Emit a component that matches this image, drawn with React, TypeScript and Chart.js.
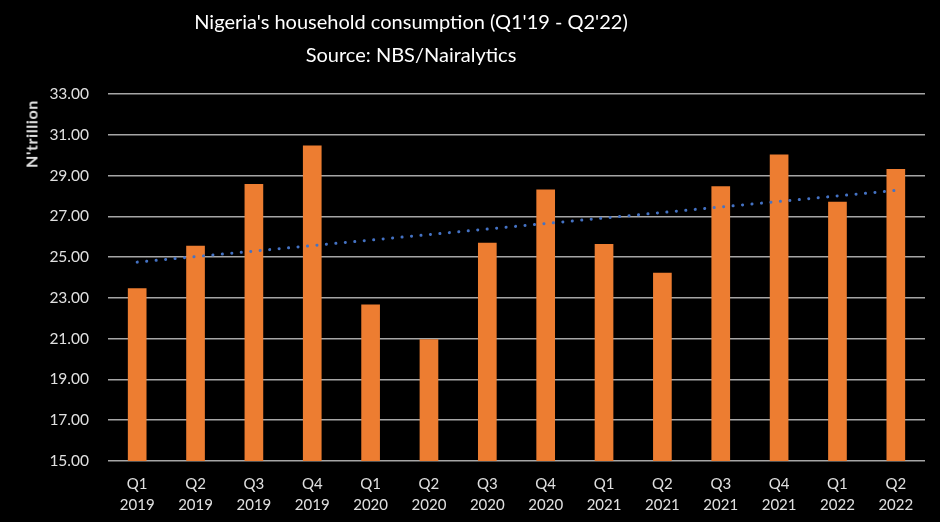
import { Chart, registerables } from "chart.js";
import React, { useEffect, useRef } from "react";

Chart.register(...registerables);

const quarters: string[] = ["Q1", "Q2", "Q3", "Q4", "Q1", "Q2", "Q3", "Q4", "Q1", "Q2", "Q3", "Q4", "Q1", "Q2"];
const years: string[] = ["2019", "2019", "2019", "2019", "2020", "2020", "2020", "2020", "2021", "2021", "2021", "2021", "2022", "2022"];
const consumption: number[] = [23.47, 25.56, 28.59, 30.48, 22.67, 20.97, 25.71, 28.31, 25.64, 24.23, 28.47, 30.03, 27.72, 29.32];

// linear trendline, same as the spreadsheet's
const trend = (ys: number[]): number[] => {
  const n = ys.length;
  const mx = (n - 1) / 2;
  const my = ys.reduce((a, b) => a + b, 0) / n;
  let num = 0;
  let den = 0;
  ys.forEach((y, i) => {
    num += (i - mx) * (y - my);
    den += (i - mx) * (i - mx);
  });
  const slope = num / den;
  return ys.map((_, i) => my + slope * (i - mx));
};

const FONT = "Lato, 'Open Sans', sans-serif";

const App: React.FC = () => {
  const chartRef = useRef<HTMLCanvasElement>(null);

  useEffect(() => {
    document.body.style.margin = "0";
    document.body.style.background = "#000";
    let chartInstance: Chart | null = null;
    if (chartRef.current) {
      chartInstance = new Chart(chartRef.current, {
        type: "bar",
        data: {
          labels: quarters.map((q, i) => [q, years[i]]),
          datasets: [
            {
              type: "line",
              label: "Trend",
              data: trend(consumption),
              borderColor: "#4472c4",
              borderWidth: 3,
              borderDash: [0.1, 9.4],
              borderCapStyle: "round",
              pointRadius: 0,
              fill: false,
              order: 0,
            },
            {
              type: "bar",
              label: "Household consumption",
              data: consumption,
              backgroundColor: "#ed7d31",
              categoryPercentage: 1,
              barPercentage: 0.32,
              order: 1,
            },
          ],
        },
        options: {
          animation: false,
          responsive: false,
          layout: { padding: { top: 94, right: 15, left: 0, bottom: 0 } },
          plugins: {
            legend: { display: false },
            tooltip: { enabled: false },
            title: { display: false },
          },
          scales: {
            x: {
              grid: { display: false },
              border: { display: false },
              ticks: {
                color: "#e0e0e0",
                font: { family: FONT, size: 15, lineHeight: 1.45 },
                padding: 4,
                maxRotation: 0,
                autoSkip: false,
              },
              afterFit: (scale: any) => {
                scale.height = 61;
              },
            },
            y: {
              min: 15,
              max: 33,
              border: { display: false },
              grid: { color: "#a6a6a6", lineWidth: 1.5, drawTicks: false },
              ticks: {
                stepSize: 2,
                color: "#e0e0e0",
                padding: 19,
                font: { family: FONT, size: 15.5 },
                callback: (v: any) => Number(v).toFixed(2),
              },
              afterFit: (scale: any) => {
                scale.width = 108;
              },
            },
          },
        },
      });
    }
    return () => {
      if (chartInstance) {
        chartInstance.destroy();
      }
    };
  }, []);

  return (
    <div style={{ position: "relative", width: 940, height: 522, background: "#000", overflow: "hidden" }}>
      <canvas ref={chartRef} width={940} height={522} style={{ position: "absolute", left: 0, top: 0 }}></canvas>
      <div
        style={{
          position: "absolute",
          left: 111,
          width: 600,
          top: 5,
          textAlign: "center",
          color: "#fff",
          fontFamily: FONT,
          fontSize: 20,
          lineHeight: "33px",
        }}
      >
        <div>Nigeria's household consumption (Q1'19 - Q2'22)</div>
        <div>Source: NBS/Nairalytics</div>
      </div>
      <div
        style={{
          position: "absolute",
          left: 31,
          top: 134,
          transform: "translate(-50%, -50%) rotate(-90deg)",
          color: "#e0e0e0",
          fontFamily: FONT,
          fontWeight: 700,
          fontSize: 16,
          letterSpacing: 0.6,
          whiteSpace: "nowrap",
        }}
      >
        N'trillion
      </div>
    </div>
  );
};

export default App;
